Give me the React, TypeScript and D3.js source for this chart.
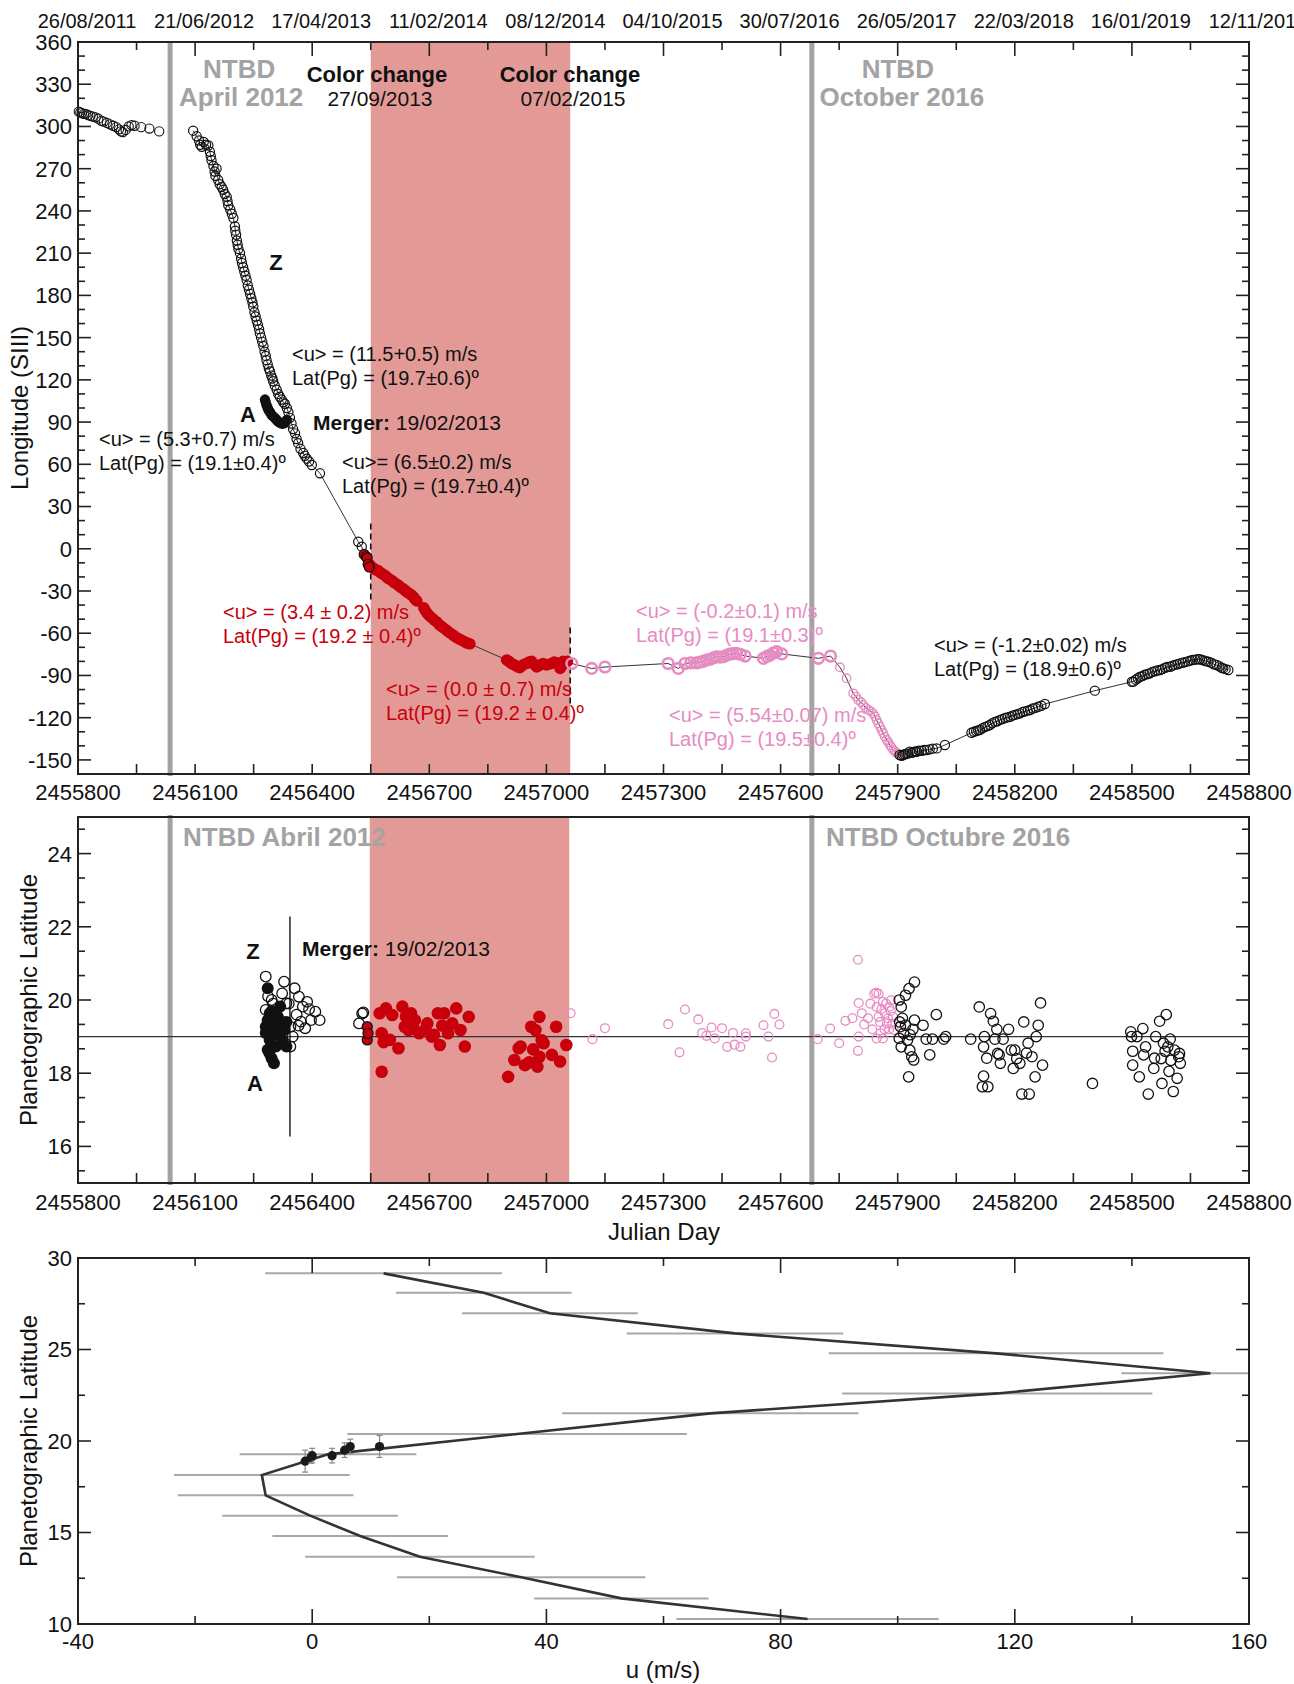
import React from 'react';
import * as d3 from 'd3';

const FONT = "'Liberation Sans', Arial, Helvetica, sans-serif";

// ---------- Panel 1: Longitude vs Julian Day ----------
const topDateJD = [2455800, 2456100, 2456400, 2456700, 2457000, 2457300, 2457600, 2457900, 2458200, 2458500, 2458800];
const topDateLabels = ['26/08/2011', '21/06/2012', '17/04/2013', '11/02/2014', '08/12/2014', '04/10/2015', '30/07/2016', '26/05/2017', '22/03/2018', '16/01/2019', '12/11/2019'];

const ntbdJD = [2456036, 2457680];
const colorBand = [2456550, 2457061];
const mergerJD = 2456343;

const lonPre2012 = [
  [2455802, 310.5], [2455806, 310], [2455810, 309.5], [2455815, 309], [2455820, 309], [2455826, 308], [2455832, 307.5],
  [2455838, 307], [2455845, 306.5], [2455852, 305.5], [2455860, 304], [2455866, 303.5], [2455874, 302.5], [2455882, 301.5],
  [2455890, 300.5], [2455898, 299.5], [2455905, 298], [2455910, 296.5], [2455915, 296], [2455922, 297.5], [2455930, 300],
  [2455937, 301], [2455945, 300.5], [2455962, 299.5], [2455983, 298.5], [2456008, 296.5]
];

const lonZ = [
  [2456095, 297], [2456104, 293], [2456110, 290], [2456113, 287], [2456117, 285.5], [2456122, 289], [2456128, 287],
  [2456134, 286.5], [2456138, 282], [2456140, 279], [2456142, 276], [2456147, 272], [2456150, 268], [2456152, 265],
  [2456155, 270], [2456159, 262], [2456163, 259], [2456168, 257], [2456172, 255], [2456176, 252], [2456181, 250],
  [2456183, 247], [2456185, 244], [2456190, 241], [2456194, 238], [2456198, 235], [2456202, 229], [2456203, 226],
  [2456205, 223], [2456207, 219], [2456209, 216], [2456211, 213], [2456215, 210], [2456218, 206], [2456220, 203],
  [2456223, 200], [2456226, 197], [2456229, 194], [2456232, 191], [2456235, 187], [2456238, 184], [2456241, 181],
  [2456244, 178], [2456247, 175], [2456249, 172], [2456252, 168], [2456255, 165], [2456258, 162], [2456261, 159],
  [2456264, 156], [2456266, 153], [2456269, 150], [2456272, 147], [2456275, 144], [2456278, 140], [2456281, 137],
  [2456283, 134], [2456286, 131], [2456289, 128], [2456292, 126], [2456295, 123], [2456298, 121], [2456300, 119],
  [2456304, 116], [2456309, 113], [2456313, 110], [2456317, 108], [2456322, 106], [2456326, 104], [2456330, 103],
  [2456335, 100], [2456339, 97], [2456343, 93], [2456347, 89], [2456351, 85], [2456356, 82], [2456360, 78],
  [2456364, 75], [2456370, 71], [2456377, 68], [2456381, 66], [2456386, 64], [2456392, 62], [2456399, 59.5],
  [2456420, 53.6], [2456518, 5], [2456527, 1.5]
];

const lonA = [
  [2456279, 106], [2456281, 104], [2456283, 102], [2456286, 100], [2456288, 98.5], [2456292, 97], [2456296, 95],
  [2456300, 94], [2456305, 92.7], [2456309, 91.5], [2456313, 90.3], [2456318, 89.5], [2456322, 89], [2456326, 89],
  [2456330, 89.5], [2456335, 91.5]
];

const lonTransition = [[2456533, -4], [2456538, -5.5], [2456541, -6.5], [2456543, -11], [2456546, -13]];

const lonRed = [
  [2456548, -11.5], [2456553, -13], [2456558, -14], [2456563, -15], [2456569, -15.5], [2456575, -17], [2456581, -18],
  [2456587, -19], [2456592, -20.5], [2456598, -21.5], [2456604, -22.5], [2456610, -24], [2456616, -25], [2456621, -26],
  [2456627, -27.5], [2456633, -28.5], [2456638, -29.5], [2456644, -31], [2456650, -32], [2456655, -33], [2456660, -34.5],
  [2456664, -36], [2456668, -37], [2456686, -42], [2456690, -44], [2456695, -46], [2456700, -47.5], [2456706, -49],
  [2456712, -50.5], [2456719, -52], [2456726, -54], [2456733, -55.5], [2456740, -57], [2456747, -58.5], [2456754, -60],
  [2456762, -61.5], [2456769, -63], [2456776, -64], [2456783, -65], [2456790, -66], [2456797, -67], [2456804, -67.5],
  [2456898, -79], [2456904, -80], [2456910, -81.5], [2456915, -82], [2456921, -83], [2456927, -84], [2456932, -84.5],
  [2456938, -83], [2456943, -82], [2456949, -81.5], [2456955, -80.5], [2456962, -80], [2456968, -82], [2456975, -84],
  [2456981, -83], [2456987, -82], [2456992, -81.5], [2457000, -82.5], [2457007, -82], [2457014, -81.5], [2457020, -80.5],
  [2457027, -81], [2457035, -85], [2457040, -83], [2457043, -80], [2457048, -81], [2457054, -80]
];

const lonPink = [
  [2457065, -81.5], [2457116, -85], [2457150, -84], [2457312, -81.5], [2457338, -85], [2457355, -81.5], [2457370, -81],
  [2457385, -81], [2457393, -80.5], [2457402, -80], [2457410, -79], [2457419, -78.5], [2457428, -77.5], [2457436, -76.7],
  [2457445, -77], [2457453, -76.7], [2457462, -75.5], [2457470, -74.8], [2457478, -74.5], [2457487, -74.3], [2457497, -75],
  [2457509, -76.2], [2457556, -77.8], [2457565, -76.5], [2457573, -75.5], [2457582, -74], [2457590, -73.1], [2457603, -74.7],
  [2457697, -77.8], [2457728, -76.2]
];

const lonPinkDescent = [
  [2457752, -84.2], [2457769, -92], [2457786, -102.7], [2457793, -105], [2457799, -107.4], [2457806, -109], [2457812, -111],
  [2457818, -113], [2457825, -114.5], [2457831, -115.5], [2457837, -117], [2457842, -119], [2457846, -121.7], [2457850, -124],
  [2457855, -126.4], [2457859, -129], [2457863, -131.1], [2457867, -133.5], [2457872, -135.8], [2457876, -137.5],
  [2457880, -139.4], [2457884, -141], [2457889, -143], [2457893, -144], [2457897, -145], [2457902, -145.5]
];

const lonBlackLate = [
  [2457905, -146.5], [2457910, -147], [2457914, -146.5], [2457918, -146], [2457922, -145.5], [2457926, -145.5],
  [2457931, -144.2], [2457936, -145], [2457940, -144.5], [2457945, -144], [2457949, -144.2], [2457955, -143.5],
  [2457962, -143.5], [2457968, -143], [2457974, -143], [2457982, -142.5], [2457990, -142], [2458000, -141.8],
  [2458021, -139.4], [2458089, -130.7], [2458095, -130], [2458101, -129.5], [2458106, -129], [2458111, -128.7],
  [2458117, -127.5], [2458124, -126.5], [2458130, -126], [2458136, -125.2], [2458142, -124], [2458149, -123],
  [2458155, -122.5], [2458162, -121.6], [2458168, -121], [2458175, -120.2], [2458181, -119.8], [2458188, -119.3],
  [2458194, -118.5], [2458200, -118], [2458207, -117.5], [2458213, -116.9], [2458220, -116], [2458226, -115.5],
  [2458233, -115], [2458239, -114.5], [2458246, -113.5], [2458253, -113], [2458260, -112.2], [2458268, -111.5],
  [2458277, -110.3], [2458405, -100.8], [2458500, -94.5], [2458504, -94.4], [2458510, -93], [2458515, -92],
  [2458521, -90.9], [2458527, -90.5], [2458533, -89.5], [2458540, -89], [2458546, -88.5], [2458552, -87.5],
  [2458559, -87], [2458565, -86.5], [2458572, -86.1], [2458578, -85.5], [2458585, -84.5], [2458591, -84],
  [2458598, -83.8], [2458604, -83], [2458610, -82.5], [2458617, -82], [2458623, -81.4], [2458630, -81],
  [2458636, -80.5], [2458643, -80], [2458649, -79.5], [2458655, -79], [2458662, -78.8], [2458668, -78.5],
  [2458674, -78.5], [2458680, -79], [2458686, -79.5], [2458691, -80], [2458696, -80.2], [2458703, -81],
  [2458710, -82], [2458717, -82.6], [2458724, -83.5], [2458730, -84.5], [2458734, -85], [2458740, -85.5], [2458747, -86.1]
];

const dashedMarks = [[2456550, 18, -36], [2457061, -56, -112]];

// ---------- Panel 2: Planetographic latitude vs Julian Day ----------
const latZOpen = [
  [2456281, 20.64], [2456328, 20.5], [2456355, 20.32], [2456323, 20.18], [2456366, 20.09], [2456387, 19.95],
  [2456334, 19.91], [2456296, 20.0], [2456376, 19.82], [2456408, 19.68], [2456397, 19.45], [2456419, 19.45],
  [2456371, 19.41], [2456382, 19.23], [2456350, 19.0], [2456344, 18.73], [2456281, 19.73], [2456307, 19.54],
  [2456344, 19.27], [2456360, 19.6], [2456340, 19.9], [2456392, 19.75], [2456365, 19.3], [2456300, 19.9], [2456287, 20.1],
  [2456520, 19.36], [2456528, 19.63], [2456531, 19.66]
];
const latRings = [[2456541, 19.27], [2456541, 18.91], [2456543, 19.09]];
const latAFilled = [
  [2456286, 20.32], [2456281, 19.27], [2456291, 19.63], [2456302, 19.09], [2456312, 19.54], [2456323, 18.91],
  [2456334, 18.73], [2456286, 18.64], [2456296, 18.41], [2456302, 18.27], [2456328, 19.18], [2456318, 19.82],
  [2456291, 18.91], [2456307, 18.73], [2456286, 19.45], [2456296, 19.3], [2456312, 19.2], [2456323, 19.4],
  [2456281, 19.1], [2456318, 19.0], [2456296, 19.7], [2456334, 19.4], [2456307, 19.6], [2456290, 18.55]
];
const latRed = [
  [2456573, 19.64], [2456589, 19.77], [2456605, 19.59], [2456578, 19.09], [2456599, 18.91], [2456621, 18.68],
  [2456578, 18.04], [2456631, 19.82], [2456653, 19.64], [2456663, 19.45], [2456637, 19.27], [2456647, 19.18],
  [2456674, 19.09], [2456695, 19.36], [2456706, 19.0], [2456722, 19.64], [2456738, 19.64], [2456727, 18.77],
  [2456748, 19.09], [2456769, 19.77], [2456780, 19.18], [2456791, 18.73], [2456801, 19.54], [2456759, 19.36],
  [2456583, 18.85], [2456658, 19.3], [2456690, 19.2], [2456712, 19.05], [2456733, 19.3], [2456640, 19.55],
  [2456902, 17.9], [2456918, 18.36], [2456929, 18.68], [2456934, 18.73], [2456945, 18.22], [2456961, 19.27],
  [2456972, 19.18], [2456977, 18.18], [2456982, 19.54], [2456982, 18.45], [2456993, 18.82], [2457014, 18.5],
  [2457025, 19.27], [2457035, 18.32], [2457051, 18.77], [2456966, 18.65], [2456988, 18.9], [2456956, 18.3]
];
const latPink = [
  [2457062, 19.64], [2457118, 18.93], [2457150, 19.23], [2457312, 19.34], [2457341, 18.57], [2457355, 19.74],
  [2457389, 19.47], [2457399, 19.1], [2457410, 19.02], [2457423, 19.25], [2457431, 18.95], [2457450, 19.23],
  [2457463, 18.72], [2457478, 19.1], [2457482, 18.78], [2457497, 18.72], [2457511, 19.09], [2457511, 19.0],
  [2457556, 19.31], [2457569, 19.0], [2457578, 18.43], [2457584, 19.62], [2457597, 19.33], [2457695, 18.93],
  [2457727, 19.22], [2457750, 18.82], [2457766, 19.43], [2457784, 19.5], [2457798, 21.1], [2457798, 18.61],
  [2457800, 19.92], [2457800, 19.0], [2457808, 19.64], [2457814, 19.33], [2457824, 19.5], [2457830, 19.9],
  [2457835, 19.2], [2457840, 20.17], [2457846, 19.81], [2457846, 18.95], [2457851, 19.54], [2457851, 20.17],
  [2457856, 19.09], [2457862, 19.95], [2457862, 18.95], [2457867, 19.64], [2457872, 19.36], [2457878, 19.81],
  [2457878, 19.2], [2457883, 19.99], [2457888, 19.54], [2457890, 19.18], [2457845, 20.2], [2457858, 19.75],
  [2457870, 19.9], [2457882, 19.7], [2457875, 19.5], [2457886, 19.35], [2457866, 19.2], [2457855, 19.4]
];
const latBlackLate = [
  [2457904, 20.0], [2457909, 19.81], [2457907, 19.27], [2457904, 18.95], [2457909, 18.72], [2457915, 19.09],
  [2457920, 20.13], [2457929, 20.31], [2457920, 19.31], [2457925, 18.9], [2457931, 18.63], [2457936, 18.45],
  [2457943, 20.49], [2457941, 18.36], [2457943, 19.45], [2457928, 17.9], [2457939, 19.2], [2457965, 19.31],
  [2457973, 18.93], [2457982, 18.5], [2457989, 18.93], [2457999, 19.6], [2458018, 18.93], [2458023, 19.0],
  [2457912, 19.5], [2457932, 19.05], [2457905, 19.4],
  [2458087, 18.93], [2458109, 19.81], [2458122, 19.0], [2458120, 18.72], [2458120, 17.92], [2458117, 17.63],
  [2458131, 17.63], [2458138, 19.63], [2458145, 19.42], [2458128, 18.41], [2458154, 19.2], [2458149, 18.93],
  [2458156, 18.54], [2458163, 18.27], [2458170, 18.93], [2458184, 19.2], [2458191, 18.63], [2458196, 18.13],
  [2458200, 18.63], [2458213, 18.27], [2458223, 19.4], [2458218, 17.43], [2458237, 17.43], [2458234, 18.82],
  [2458244, 18.45], [2458255, 19.0], [2458260, 19.31], [2458252, 17.9], [2458266, 19.92], [2458271, 18.22],
  [2458160, 18.5], [2458205, 18.4], [2458230, 18.55],
  [2458399, 17.72],
  [2458497, 19.13], [2458499, 19.0], [2458502, 18.6], [2458502, 18.22], [2458513, 19.0], [2458519, 17.9],
  [2458528, 19.22], [2458535, 18.72], [2458530, 18.5], [2458542, 17.43], [2458556, 18.13], [2458561, 19.0],
  [2458558, 18.41], [2458571, 19.42], [2458577, 17.72], [2458575, 18.4], [2458581, 18.82], [2458588, 19.6],
  [2458592, 18.72], [2458598, 18.93], [2458595, 18.05], [2458606, 17.5], [2458609, 18.63], [2458616, 17.86],
  [2458620, 18.45], [2458624, 18.27], [2458622, 18.54], [2458585, 18.6], [2458600, 18.35]
];
const meanLat = 19;
const mergerLatRange = [16.27, 22.28];

// ---------- Panel 3: wind profile ----------
const profileU = [12.2, 29.3, 40.6, 72.2, 116.8, 153.4, 117, 68, 35, 2.7, -8.6, -7.95, -0.35, 8.2, 18.4, 35.7, 52.8, 84.6];
const profileLat = [29.16, 28.1, 26.98, 25.88, 24.79, 23.7, 22.6, 21.51, 20.38, 19.27, 18.14, 17.03, 15.92, 14.81, 13.68, 12.55, 11.4, 10.27];
const profileErr = [20.2, 15, 15, 18.5, 28.6, 15.2, 26.5, 25.3, 29, 15.1, 15, 15, 15, 15, 19.6, 21.2, 14.9, 22.4];
const measU = [-1.2, -0.2, 0.0, 3.4, 5.54, 6.5, 11.5];
const measLat = [18.9, 19.1, 19.2, 19.2, 19.5, 19.7, 19.7];
const measErr = [0.6, 0.3, 0.4, 0.4, 0.4, 0.4, 0.6];

const RED = '#c8000c';
const PINK = '#e78bc3';
const BAND = '#e39a97';
const GRAY = '#a3a3a3';
const AX = '#222';

export default function App() {
  const W = 1294, H = 1684;
  const L = 78, R = 1249;
  const P1 = [42, 774], P2 = [817, 1183], P3 = [1258, 1624];

  const x1 = d3.scaleLinear().domain([2455800, 2458800]).range([L, R]);
  const y1 = d3.scaleLinear().domain([-160, 360]).range([P1[1], P1[0]]);
  const y2 = d3.scaleLinear().domain([15, 25]).range([P2[1], P2[0]]);
  const x3 = d3.scaleLinear().domain([-40, 160]).range([L, R]);
  const y3 = d3.scaleLinear().domain([10, 30]).range([P3[1], P3[0]]);

  const jdTicks = d3.range(2455800, 2458801, 150);
  const jdLabels = d3.range(2455800, 2458801, 300);

  const trackAll = d3.sort(
    [...lonZ, ...lonTransition, ...lonRed, ...lonPink, ...lonPinkDescent, ...lonBlackLate],
    (d: number[]) => d[0]
  );
  const line1 = d3.line<number[]>().x(d => x1(d[0])).y(d => y1(d[1]));

  const profile = profileU.map((u, i) => [u, profileLat[i], profileErr[i]]);
  const line3 = d3.line<number[]>().x(d => x3(d[0])).y(d => y3(d[1]));

  const t = (props: any, s: string, key?: any) => <text key={key} fontFamily={FONT} {...props}>{s}</text>;

  const yLon1Major = d3.range(-150, 361, 30);
  const yLon1Minor = d3.range(-160, 361, 10).filter(v => (v + 150) % 30 !== 0);
  const yLat2Major = [16, 18, 20, 22, 24];
  const yLat2Minor = [15.333, 16.667, 17.333, 18.667, 19.333, 20.667, 21.333, 22.667, 23.333, 24.667];
  const yLat3Major = [10, 15, 20, 25, 30];
  const yLat3Minor = [12.5, 17.5, 22.5, 27.5];
  const u3Major = d3.range(-40, 161, 40);
  const u3Minor = [-20, 20, 60, 100, 140];

  const yTicks = (scale: any, major: number[], minor: number[], labels: boolean, fmt: (v: number) => string, fs: number) => (
    <g>
      {major.map(v => (
        <g key={'M' + v}>
          <line x1={L} x2={L + 13} y1={scale(v)} y2={scale(v)} stroke={AX} strokeWidth={1.6} />
          <line x1={R} x2={R - 13} y1={scale(v)} y2={scale(v)} stroke={AX} strokeWidth={1.6} />
          {labels && t({ x: L - 6, y: scale(v), textAnchor: 'end', dy: '0.36em', fontSize: fs, fill: '#111' }, fmt(v))}
        </g>
      ))}
      {minor.map(v => (
        <g key={'m' + v}>
          <line x1={L} x2={L + 7} y1={scale(v)} y2={scale(v)} stroke={AX} strokeWidth={1.6} />
          <line x1={R} x2={R - 7} y1={scale(v)} y2={scale(v)} stroke={AX} strokeWidth={1.6} />
        </g>
      ))}
    </g>
  );

  const frame = (top: number, bottom: number) => (
    <rect x={L} y={top} width={R - L} height={bottom - top} fill="none" stroke={AX} strokeWidth={2} />
  );

  return (
    <svg width={W} height={H} viewBox={`0 0 ${W} ${H}`} style={{ position: 'absolute', left: 0, top: 0, background: '#fff' }}>
      <defs>
        <clipPath id="c3"><rect x={L} y={P3[0]} width={R - L} height={P3[1] - P3[0]} /></clipPath>
      </defs>
      <rect x={0} y={0} width={W} height={H} fill="#fff" />

      {/* ================= PANEL 1 ================= */}
      <rect x={x1(colorBand[0])} y={P1[0]} width={x1(colorBand[1]) - x1(colorBand[0])} height={P1[1] - P1[0]} fill={BAND} />
      {ntbdJD.map(j => <line key={j} x1={x1(j)} x2={x1(j)} y1={P1[0]} y2={P1[1] + 2} stroke={GRAY} strokeWidth={5} />)}
      {dashedMarks.map(d => <line key={d[0]} x1={x1(d[0])} x2={x1(d[0])} y1={y1(d[1])} y2={y1(d[2])} stroke="#111" strokeWidth={1.6} strokeDasharray="6,4" />)}

      <path d={line1(trackAll) || ''} fill="none" stroke="#333" strokeWidth={1} />
      {lonPre2012.map((d, i) => <circle key={'p' + i} cx={x1(d[0])} cy={y1(d[1])} r={4.6} fill="none" stroke="#111" strokeWidth={1.1} />)}
      {lonZ.map((d, i) => <circle key={'z' + i} cx={x1(d[0])} cy={y1(d[1])} r={4.6} fill="none" stroke="#111" strokeWidth={1.2} />)}
      {lonA.map((d, i) => <circle key={'a' + i} cx={x1(d[0])} cy={y1(d[1])} r={5.2} fill="#111" />)}
      {lonRed.map((d, i) => <circle key={'r' + i} cx={x1(d[0])} cy={y1(d[1])} r={5.8} fill={RED} />)}
      {lonTransition.map((d, i) => <circle key={'t' + i} cx={x1(d[0])} cy={y1(d[1])} r={5} fill={RED} stroke="#111" strokeWidth={1.1} />)}
      {lonPink.map((d, i) => <circle key={'k' + i} cx={x1(d[0])} cy={y1(d[1])} r={5.3} fill="none" stroke={PINK} strokeWidth={2.6} />)}
      {lonPinkDescent.map((d, i) => <circle key={'kd' + i} cx={x1(d[0])} cy={y1(d[1])} r={4.3} fill="none" stroke={PINK} strokeWidth={1.3} />)}
      {lonBlackLate.map((d, i) => <circle key={'b' + i} cx={x1(d[0])} cy={y1(d[1])} r={4.6} fill="none" stroke="#111" strokeWidth={1.2} />)}

      {/* annotations panel 1 */}
      {t({ x: x1(ntbdJD[0]) + 69, y: 78, textAnchor: 'middle', fontSize: 26, fontWeight: 'bold', fill: GRAY }, 'NTBD')}
      {t({ x: x1(ntbdJD[0]) + 71, y: 106, textAnchor: 'middle', fontSize: 26, fontWeight: 'bold', fill: GRAY }, 'April 2012')}
      {t({ x: x1(ntbdJD[1]) + 86, y: 78, textAnchor: 'middle', fontSize: 26, fontWeight: 'bold', fill: GRAY }, 'NTBD')}
      {t({ x: x1(ntbdJD[1]) + 90, y: 106, textAnchor: 'middle', fontSize: 26, fontWeight: 'bold', fill: GRAY }, 'October 2016')}
      {t({ x: 377, y: 82, textAnchor: 'middle', fontSize: 22, fontWeight: 'bold', fill: '#111' }, 'Color change')}
      {t({ x: 380, y: 106, textAnchor: 'middle', fontSize: 21, fill: '#111' }, '27/09/2013')}
      {t({ x: 570, y: 82, textAnchor: 'middle', fontSize: 22, fontWeight: 'bold', fill: '#111' }, 'Color change')}
      {t({ x: 573, y: 106, textAnchor: 'middle', fontSize: 21, fill: '#111' }, '07/02/2015')}
      {t({ x: 276, y: 270, textAnchor: 'middle', fontSize: 22, fontWeight: 'bold', fill: '#111' }, 'Z')}
      {t({ x: 248, y: 422, textAnchor: 'middle', fontSize: 22, fontWeight: 'bold', fill: '#111' }, 'A')}
      <text x={313} y={430} fontFamily={FONT} fontSize={21} fill="#111"><tspan fontWeight="bold">Merger:</tspan> 19/02/2013</text>
      {t({ x: 292, y: 361, fontSize: 20, fill: '#111' }, '<u> = (11.5+0.5) m/s')}
      {t({ x: 292, y: 385, fontSize: 20, fill: '#111' }, 'Lat(Pg) = (19.7±0.6)º')}
      {t({ x: 99, y: 446, fontSize: 20, fill: '#111' }, '<u> = (5.3+0.7) m/s')}
      {t({ x: 99, y: 470, fontSize: 20, fill: '#111' }, 'Lat(Pg) = (19.1±0.4)º')}
      {t({ x: 342, y: 469, fontSize: 20, fill: '#111' }, '<u>= (6.5±0.2) m/s')}
      {t({ x: 342, y: 493, fontSize: 20, fill: '#111' }, 'Lat(Pg) = (19.7±0.4)º')}
      {t({ x: 223, y: 619, fontSize: 20, fill: RED }, '<u> = (3.4 ± 0.2) m/s')}
      {t({ x: 223, y: 643, fontSize: 20, fill: RED }, 'Lat(Pg) = (19.2 ± 0.4)º')}
      {t({ x: 386, y: 696, fontSize: 20, fill: RED }, '<u> = (0.0 ± 0.7) m/s')}
      {t({ x: 386, y: 720, fontSize: 20, fill: RED }, 'Lat(Pg) = (19.2 ± 0.4)º')}
      {t({ x: 636, y: 618, fontSize: 20, fill: PINK }, '<u> = (-0.2±0.1) m/s')}
      {t({ x: 636, y: 642, fontSize: 20, fill: PINK }, 'Lat(Pg) = (19.1±0.3)º')}
      {t({ x: 669, y: 722, fontSize: 20, fill: PINK }, '<u> = (5.54±0.07) m/s')}
      {t({ x: 669, y: 746, fontSize: 20, fill: PINK }, 'Lat(Pg) = (19.5±0.4)º')}
      {t({ x: 934, y: 652, fontSize: 20, fill: '#111' }, '<u> = (-1.2±0.02) m/s')}
      {t({ x: 934, y: 676, fontSize: 20, fill: '#111' }, 'Lat(Pg) = (18.9±0.6)º')}

      {/* axes panel 1 */}
      {jdTicks.map(v => (
        <g key={'jt1' + v}>
          <line x1={x1(v)} x2={x1(v)} y1={P1[1]} y2={P1[1] - 10} stroke={AX} strokeWidth={1.6} />
          <line x1={x1(v)} x2={x1(v)} y1={P1[0]} y2={P1[0] + ((v - 2455800) % 300 === 0 ? 14 : 8)} stroke={AX} strokeWidth={1.6} />
        </g>
      ))}
      {jdLabels.map(v => t({ x: x1(v), y: 800, textAnchor: 'middle', fontSize: 22, fill: '#111' }, String(v), 'jl1' + v))}
      {topDateJD.map((v, i) => t({ x: x1(v) + 9, y: 28, textAnchor: 'middle', fontSize: 20, fill: '#111' }, topDateLabels[i], 'td' + v))}
      {yTicks(y1, yLon1Major, yLon1Minor, true, v => String(v), 22)}
      {frame(P1[0], P1[1])}
      <text transform={`translate(28,${(P1[0] + P1[1]) / 2}) rotate(-90)`} textAnchor="middle" fontFamily={FONT} fontSize={24} fill="#111">Longitude (SIII)</text>

      {/* ================= PANEL 2 ================= */}
      <rect x={x1(colorBand[0]) - 1} y={P2[0]} width={x1(colorBand[1]) - x1(colorBand[0])} height={P2[1] - P2[0]} fill={BAND} />
      {ntbdJD.map(j => <line key={'n2' + j} x1={x1(j)} x2={x1(j)} y1={P2[0] - 2} y2={P2[1] + 2} stroke={GRAY} strokeWidth={5} />)}
      <line x1={L} x2={R} y1={y2(meanLat)} y2={y2(meanLat)} stroke="#333" strokeWidth={1.2} />
      <line x1={x1(mergerJD)} x2={x1(mergerJD)} y1={y2(mergerLatRange[0])} y2={y2(mergerLatRange[1])} stroke="#111" strokeWidth={1.4} />
      {latZOpen.map((d, i) => <circle key={'lz' + i} cx={x1(d[0])} cy={y2(d[1])} r={5.3} fill="none" stroke="#111" strokeWidth={1.3} />)}
      {latAFilled.map((d, i) => <circle key={'la' + i} cx={x1(d[0])} cy={y2(d[1])} r={6} fill="#111" />)}
      {latRed.map((d, i) => <circle key={'lr' + i} cx={x1(d[0])} cy={y2(d[1])} r={6.3} fill={RED} />)}
      {latRings.map((d, i) => <circle key={'lg' + i} cx={x1(d[0])} cy={y2(d[1])} r={5} fill={RED} stroke="#111" strokeWidth={1.3} />)}
      {latPink.map((d, i) => <circle key={'lp' + i} cx={x1(d[0])} cy={y2(d[1])} r={4.4} fill="none" stroke={PINK} strokeWidth={1.3} />)}
      {latBlackLate.map((d, i) => <circle key={'lb' + i} cx={x1(d[0])} cy={y2(d[1])} r={5.2} fill="none" stroke="#111" strokeWidth={1.3} />)}

      {t({ x: 183, y: 846, fontSize: 26, fontWeight: 'bold', fill: GRAY }, 'NTBD Abril 2012')}
      {t({ x: 826, y: 846, fontSize: 26, fontWeight: 'bold', fill: GRAY }, 'NTBD Octubre 2016')}
      {t({ x: 253, y: 959, textAnchor: 'middle', fontSize: 22, fontWeight: 'bold', fill: '#111' }, 'Z')}
      {t({ x: 255, y: 1091, textAnchor: 'middle', fontSize: 22, fontWeight: 'bold', fill: '#111' }, 'A')}
      <text x={302} y={956} fontFamily={FONT} fontSize={21} fill="#111"><tspan fontWeight="bold">Merger:</tspan> 19/02/2013</text>

      {jdTicks.map(v => <line key={'jt2' + v} x1={x1(v)} x2={x1(v)} y1={P2[1]} y2={P2[1] - 10} stroke={AX} strokeWidth={1.6} />)}
      {jdLabels.map(v => t({ x: x1(v), y: 1210, textAnchor: 'middle', fontSize: 22, fill: '#111' }, String(v), 'jl2' + v))}
      {yTicks(y2, yLat2Major, yLat2Minor, true, v => String(v), 22)}
      {frame(P2[0], P2[1])}
      <text transform={`translate(37,${(P2[0] + P2[1]) / 2}) rotate(-90)`} textAnchor="middle" fontFamily={FONT} fontSize={24} fill="#111">Planetographic Latitude</text>
      {t({ x: 664, y: 1240, textAnchor: 'middle', fontSize: 24, fill: '#111' }, 'Julian Day')}

      {/* ================= PANEL 3 ================= */}
      <g clipPath="url(#c3)">
        {profile.map((d, i) => <line key={'eb' + i} x1={x3(d[0] - d[2])} x2={x3(d[0] + d[2])} y1={y3(d[1])} y2={y3(d[1])} stroke="#a8a8a8" strokeWidth={2} />)}
        <path d={line3(profile) || ''} fill="none" stroke="#333" strokeWidth={2.6} />
      </g>
      {measU.map((u, i) => (
        <g key={'ms' + i}>
          <line x1={x3(u)} x2={x3(u)} y1={y3(measLat[i] - measErr[i])} y2={y3(measLat[i] + measErr[i])} stroke="#888" strokeWidth={1.2} />
          <line x1={x3(u) - 3} x2={x3(u) + 3} y1={y3(measLat[i] - measErr[i])} y2={y3(measLat[i] - measErr[i])} stroke="#888" strokeWidth={1.2} />
          <line x1={x3(u) - 3} x2={x3(u) + 3} y1={y3(measLat[i] + measErr[i])} y2={y3(measLat[i] + measErr[i])} stroke="#888" strokeWidth={1.2} />
          <circle cx={x3(u)} cy={y3(measLat[i])} r={4.6} fill="#1a1a1a" />
        </g>
      ))}
      {u3Major.map(v => (
        <g key={'u3M' + v}>
          <line x1={x3(v)} x2={x3(v)} y1={P3[1]} y2={P3[1] - 15} stroke={AX} strokeWidth={1.6} />
          <line x1={x3(v)} x2={x3(v)} y1={P3[0]} y2={P3[0] + 15} stroke={AX} strokeWidth={1.6} />
          {t({ x: x3(v), y: 1649, textAnchor: 'middle', fontSize: 22, fill: '#111' }, String(v))}
        </g>
      ))}
      {u3Minor.map(v => (
        <g key={'u3m' + v}>
          <line x1={x3(v)} x2={x3(v)} y1={P3[1]} y2={P3[1] - 8} stroke={AX} strokeWidth={1.6} />
          <line x1={x3(v)} x2={x3(v)} y1={P3[0]} y2={P3[0] + 8} stroke={AX} strokeWidth={1.6} />
        </g>
      ))}
      {yTicks(y3, yLat3Major, yLat3Minor, true, v => String(v), 22)}
      {frame(P3[0], P3[1])}
      <text transform={`translate(37,${(P3[0] + P3[1]) / 2}) rotate(-90)`} textAnchor="middle" fontFamily={FONT} fontSize={24} fill="#111">Planetographic Latitude</text>
      {t({ x: 663, y: 1678, textAnchor: 'middle', fontSize: 24, fill: '#111' }, 'u (m/s)')}
    </svg>
  );
}
